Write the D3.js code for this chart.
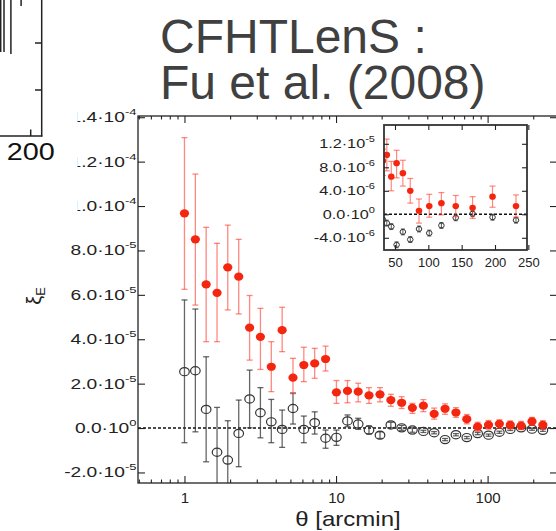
<!DOCTYPE html>
<html><head><meta charset="utf-8">
<script src="https://cdn.jsdelivr.net/npm/d3@7"></script>
<style>body{margin:0;background:#fff;position:relative}svg{display:block}text{font-family:"Liberation Sans",Arial,Helvetica,sans-serif}
#title{position:absolute;left:160px;top:14.4px;font-family:"Liberation Sans",Arial,Helvetica,sans-serif;font-size:48px;line-height:46px;color:#404040;white-space:nowrap;margin:0}</style>
</head><body><svg id="c" width="556" height="531"></svg><div id="title"></div>
<script>
// ---------- DATA ----------
const theta = [1.00,1.18,1.39,1.64,1.93,2.28,2.69,3.17,3.74,4.41,5.20,6.13,7.23,8.53,10.06,11.9,14.0,16.5,19.5,23.0,27.1,31.9,37.7,44.4,52.4,61.8,72.9,86.0,101.4,119.6,141.1,166.4,196.3,231.5];
// E-mode (red), units of 1e-5
const xiE   = [9.67,8.50,6.47,6.09,7.24,6.82,4.52,4.11,2.76,4.41,2.27,2.84,2.91,3.11,1.61,1.67,1.64,1.47,1.52,1.26,1.14,0.91,1.01,0.64,0.87,0.70,0.40,0.06,0.14,0.19,0.14,0.11,0.30,0.14];
const xiELo = [6.25,5.54,3.89,3.89,5.32,5.14,3.06,2.64,1.64,3.44,1.55,2.09,2.24,2.57,1.11,1.14,1.18,1.11,1.18,0.98,0.88,0.66,0.74,0.40,0.62,0.48,0.19,-0.15,-0.05,-0.01,-0.04,-0.07,0.12,-0.05];
const xiEHi = [13.08,11.44,9.04,8.32,9.14,8.50,5.97,5.39,3.89,5.44,3.14,3.64,3.59,3.69,2.14,2.14,2.02,1.82,1.82,1.52,1.41,1.11,1.28,0.90,1.09,0.92,0.61,0.26,0.34,0.37,0.32,0.30,0.48,0.33];
// B-mode (black open), units of 1e-5
const xiB   = [2.54,2.58,0.84,-1.09,-1.44,-0.24,1.31,0.69,0.28,-0.06,0.88,-0.06,0.24,-0.46,-0.42,0.32,0.18,-0.09,-0.32,0.14,0.01,-0.09,-0.15,-0.21,-0.52,-0.30,-0.43,-0.25,-0.32,-0.19,-0.06,0.01,-0.05,-0.10];
const xiBLo = [-0.66,-0.17,-1.52,-3.50,-3.20,-1.74,0.01,-0.44,-0.66,-0.87,0.18,-0.66,-0.27,-0.91,-0.78,0.06,-0.06,-0.27,-0.47,0.02,-0.10,-0.19,-0.20,-0.26,-0.57,-0.35,-0.48,-0.30,-0.37,-0.24,-0.11,-0.04,-0.10,-0.15];
const xiBHi = [5.77,5.36,3.21,0.93,0.33,1.26,2.61,1.82,1.29,0.81,1.58,0.54,0.73,-0.09,-0.09,0.59,0.44,0.09,-0.17,0.26,0.12,0.01,-0.10,-0.16,-0.47,-0.25,-0.38,-0.20,-0.27,-0.14,-0.01,0.06,0.00,-0.05];

const xMajorTicks = [1,10,100];
const xMajorLabels = ["1","10","100"];
const xMinorTicks = [0.5,0.6,0.7,0.8,0.9,2,3,4,5,6,7,8,9,20,30,40,50,60,70,80,90,200];
const yTicks = [-2e-5,0,2e-5,4e-5,6e-5,8e-5,1e-4,1.2e-4,1.4e-4];
const yTickMant = ["-2.0","0.0","2.0","4.0","6.0","8.0","1.0","1.2","1.4"];
const yTickExp  = ["-5","0","-5","-5","-5","-5","-4","-4","-4"];

const inXTicks = [50,100,150,200,250];
const inYTicks = [-4e-6,0,4e-6,8e-6,1.2e-5];
const inYMant = ["-4.0","0.0","4.0","8.0","1.2"];
const inYExp  = ["-6","0","-6","-6","-5"];

// fragment of neighbouring figure (top-left)
const fragBarX = [150,155.5,167,184];
const fragBarH = [52,52,54,6];
const fragTicksY = [43,90];

const titleLines = ["CFHTLenS :","Fu et al. (2008)"];

// ---------- DRAW ----------
const svg = d3.select("#c");
const defs = svg.append("defs");
const E = 1e-5;
const RED = "#f5260f", REDBAR = "#ff3b2b";

const x = d3.scaleLog().domain([0.4936, 287]).range([138, 557]);
const y = d3.scaleLinear().domain([-2.475e-5, 1.4055e-4]).range([483, 116]);

defs.append("clipPath").attr("id","cm").append("rect")
  .attr("x",138).attr("y",116).attr("width",419).attr("height",367);

const pts = theta.map((t,i)=>({t, e:xiE[i]*E, eLo:xiELo[i]*E, eHi:xiEHi[i]*E, b:xiB[i]*E, bLo:xiBLo[i]*E, bHi:xiBHi[i]*E}));

function styleAxis(g){ g.select(".domain").remove(); g.selectAll(".tick line").attr("stroke","#222").attr("stroke-width",1.1); }

function supLabels(g, mant, exp, sx, pad, fs, sfs, rise){
  g.selectAll(".tick text").each(function(d,i){
    const t = d3.select(this);
    t.text(null).attr("font-size",fs).attr("fill","#222").attr("text-anchor","end")
     .attr("x",-pad/sx).attr("transform",`scale(${sx},1)`).attr("font-family",'"Liberation Sans",Arial,sans-serif');
    t.append("tspan").text(mant[i]+"·10");
    t.append("tspan").attr("dy",-rise).attr("font-size",sfs).text(exp[i]);
  });
}

// main plot
const m = svg.append("g");
m.append("line").attr("x1",138).attr("x2",557).attr("y1",y(0)).attr("y2",y(0))
  .attr("stroke","#111").attr("stroke-width",1.6).attr("stroke-dasharray","3,2");

const data = m.append("g").attr("clip-path","url(#cm)");
function errBars(g, key, lo, hi, color, op, w, cap){
  const gg = g.append("g").attr("stroke",color).attr("stroke-opacity",op).attr("stroke-width",w);
  pts.forEach(p=>{
    const px = x(p.t);
    gg.append("line").attr("x1",px).attr("x2",px).attr("y1",y(p[lo])).attr("y2",y(p[hi]));
    gg.append("line").attr("x1",px-cap).attr("x2",px+cap).attr("y1",y(p[lo])).attr("y2",y(p[lo]));
    gg.append("line").attr("x1",px-cap).attr("x2",px+cap).attr("y1",y(p[hi])).attr("y2",y(p[hi]));
  });
}
errBars(data,"b","bLo","bHi","#333",0.75,1.3,3);
data.append("g").selectAll("ellipse").data(pts).join("ellipse")
  .attr("cx",d=>x(d.t)).attr("cy",d=>y(d.b)).attr("rx",4.8).attr("ry",4.1)
  .attr("fill","none").attr("stroke","#333").attr("stroke-width",1.2);
errBars(data,"e","eLo","eHi",REDBAR,0.6,1.3,3);
data.append("g").selectAll("ellipse").data(pts).join("ellipse")
  .attr("cx",d=>x(d.t)).attr("cy",d=>y(d.e)).attr("rx",4.6).attr("ry",4.1).attr("fill",RED);

m.append("rect").attr("x",138).attr("y",116).attr("width",419).attr("height",367)
  .attr("fill","none").attr("stroke","#222").attr("stroke-width",1.3);

const gxb = m.append("g").attr("transform","translate(0,483)")
  .call(d3.axisBottom(x).tickValues(xMajorTicks).tickSize(-7).tickPadding(9.5).tickFormat((d,i)=>xMajorLabels[i]));
styleAxis(gxb); gxb.selectAll(".tick text").attr("font-size",15).attr("fill","#222").attr("font-family",'"Liberation Sans",Arial,sans-serif');
const gxbm = m.append("g").attr("transform","translate(0,483)")
  .call(d3.axisBottom(x).tickValues(xMinorTicks).tickSize(-3.5).tickFormat(""));
styleAxis(gxbm);
const gxt = m.append("g").attr("transform","translate(0,116)")
  .call(d3.axisTop(x).tickValues(xMajorTicks).tickSize(-7).tickFormat(""));
styleAxis(gxt);
const gxtm = m.append("g").attr("transform","translate(0,116)")
  .call(d3.axisTop(x).tickValues(xMinorTicks).tickSize(-3.5).tickFormat(""));
styleAxis(gxtm);
const gyl = m.append("g").attr("transform","translate(138,0)")
  .call(d3.axisLeft(y).tickValues(yTicks).tickSize(-7).tickPadding(0));
styleAxis(gyl); supLabels(gyl, yTickMant, yTickExp, 1.37, 1.5, 14, 9.5, 7);
const gyr = m.append("g").attr("transform","translate(557,0)")
  .call(d3.axisRight(y).tickValues(yTicks).tickSize(-7).tickFormat(""));
styleAxis(gyr);

m.append("g").attr("transform","translate(348,526) scale(1.2,1)")
  .append("text").attr("text-anchor","middle").attr("font-size",20).attr("fill","#222").text("θ [arcmin]");
const yl = m.append("g").attr("transform","translate(41,296) rotate(-90)")
  .append("text").attr("text-anchor","middle").attr("font-size",20).attr("fill","#222");
yl.append("tspan").text("ξ");
yl.append("tspan").attr("font-size",13).attr("dy",4).text("E");

// ---------- inset ----------
const xi = d3.scaleLinear().domain([33.5, 248]).range([384, 527]);
const yi = d3.scaleLinear().domain([-6.08e-6, 1.52e-5]).range([250, 125]);
defs.append("clipPath").attr("id","ci").append("rect")
  .attr("x",384).attr("y",125).attr("width",143).attr("height",125);
const ins = svg.append("g");
ins.append("rect").attr("x",384).attr("y",125).attr("width",143).attr("height",125).attr("fill","#fff");
ins.append("line").attr("x1",384).attr("x2",527).attr("y1",yi(0)).attr("y2",yi(0))
  .attr("stroke","#111").attr("stroke-width",1.5).attr("stroke-dasharray","3,2");
const idata = ins.append("g").attr("clip-path","url(#ci)");
function errBarsIn(g, lo, hi, color, op, w, cap){
  const gg = g.append("g").attr("stroke",color).attr("stroke-opacity",op).attr("stroke-width",w);
  pts.forEach(p=>{
    const px = xi(p.t);
    gg.append("line").attr("x1",px).attr("x2",px).attr("y1",yi(p[lo])).attr("y2",yi(p[hi]));
    gg.append("line").attr("x1",px-cap).attr("x2",px+cap).attr("y1",yi(p[lo])).attr("y2",yi(p[lo]));
    gg.append("line").attr("x1",px-cap).attr("x2",px+cap).attr("y1",yi(p[hi])).attr("y2",yi(p[hi]));
  });
}
errBarsIn(idata,"bLo","bHi","#333",0.8,1,2);
idata.append("g").selectAll("ellipse").data(pts).join("ellipse")
  .attr("cx",d=>xi(d.t)).attr("cy",d=>yi(d.b)).attr("rx",2.8).attr("ry",2.5)
  .attr("fill","none").attr("stroke","#333").attr("stroke-width",1);
errBarsIn(idata,"eLo","eHi",REDBAR,0.6,1.2,3);
idata.append("g").selectAll("ellipse").data(pts).join("ellipse")
  .attr("cx",d=>xi(d.t)).attr("cy",d=>yi(d.e)).attr("rx",3.3).attr("ry",3.1).attr("fill",RED);
ins.append("rect").attr("x",384).attr("y",125).attr("width",143).attr("height",125)
  .attr("fill","none").attr("stroke","#333").attr("stroke-width",1.8);
const gib = ins.append("g").attr("transform","translate(0,250)")
  .call(d3.axisBottom(xi).tickValues(inXTicks).tickSize(-5).tickPadding(8));
styleAxis(gib); gib.selectAll(".tick text").attr("font-size",13).attr("fill","#222").attr("font-family",'"Liberation Sans",Arial,sans-serif');
const git = ins.append("g").attr("transform","translate(0,125)")
  .call(d3.axisTop(xi).tickValues(inXTicks).tickSize(-5).tickFormat(""));
styleAxis(git);
const gil = ins.append("g").attr("transform","translate(384,0)")
  .call(d3.axisLeft(yi).tickValues(inYTicks).tickSize(-5).tickPadding(0));
styleAxis(gil); supLabels(gil, inYMant, inYExp, 1.3, 9, 12.5, 8.5, 6);
const gir = ins.append("g").attr("transform","translate(527,0)")
  .call(d3.axisRight(yi).tickValues(inYTicks).tickSize(-5).tickFormat(""));
styleAxis(gir);

// ---------- cover (overlapping slide element) ----------
svg.append("rect").attr("x",0).attr("y",0).attr("width",77.5).attr("height",215).attr("fill","#fff");

// ---------- fragment of neighbouring figure ----------
const fx = d3.scaleLinear().domain([150,200]).range([0.7,30.7]);
const fy = d3.scaleLinear().domain([0,136]).range([0,136]);
const frag = svg.append("g").attr("stroke","#222").attr("stroke-width",1.5);
fragBarX.forEach((v,i)=>frag.append("line").attr("x1",fx(v)).attr("x2",fx(v)).attr("y1",0).attr("y2",fy(fragBarH[i])));
frag.append("line").attr("x1",41.7).attr("x2",41.7).attr("y1",0).attr("y2",136.5);
frag.append("line").attr("x1",0).attr("x2",42.4).attr("y1",136).attr("y2",136);
fragTicksY.forEach(v=>frag.append("line").attr("x1",35).attr("x2",41.7).attr("y1",fy(v)).attr("y2",fy(v)));
frag.append("line").attr("x1",fx(200)).attr("x2",fx(200)).attr("y1",136).attr("y2",129.5);
svg.append("g").attr("transform",`translate(${fx(200)},160) scale(1.2,1)`)
  .append("text").attr("text-anchor","middle").attr("font-size",24).attr("fill","#111").text("200");

// ---------- title (one HTML block, two lines) ----------
const tdiv = d3.select("#title");
titleLines.forEach((t,i)=>{ if(i) tdiv.append("br"); tdiv.append(()=>document.createTextNode(t)); });
</script></body></html>
